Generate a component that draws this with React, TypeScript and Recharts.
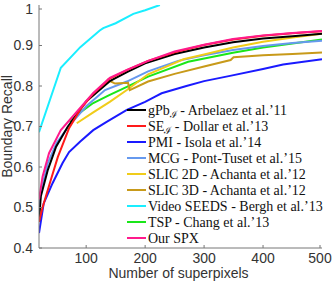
import React from "react";
import { LineChart, Line, XAxis, YAxis, Legend } from "recharts";

// [superpixels, boundary recall]
const gpb: number[][] = [[20,0.465],[23,0.527],[35,0.593],[49,0.65],[69,0.70],[100,0.762],[140,0.812],[170,0.835],[200,0.856],[250,0.879],[300,0.895],[349,0.908],[400,0.917],[450,0.923],[500,0.929]];
const se: number[][] = [[20,0.465],[26,0.50],[40,0.568],[52,0.625],[71,0.696],[90,0.742],[112,0.781],[140,0.818],[170,0.84],[205,0.862],[250,0.883],[300,0.901],[350,0.915],[400,0.924],[450,0.930],[500,0.935]];
const pmi: number[][] = [[20,0.437],[28,0.51],[43,0.56],[60,0.61],[71,0.637],[90,0.663],[112,0.691],[134,0.711],[169,0.741],[200,0.761],[217,0.774],[228,0.782],[270,0.80],[300,0.812],[344,0.825],[400,0.842],[434,0.853],[500,0.866]];
const mcg: number[][] = [[20,0.50],[25,0.55],[35,0.61],[50,0.66],[70,0.70],[100,0.75],[132,0.79],[169,0.811],[205,0.836],[256,0.862],[300,0.876],[349,0.889],[400,0.899],[450,0.906],[500,0.912]];
const slic2d: number[][] = [[84,0.708],[112,0.735],[140,0.761],[169,0.79],[205,0.829],[265,0.866],[300,0.878],[349,0.895],[400,0.909],[450,0.920],[500,0.929]];
const slic3d: number[][] = [[135,0.816],[149,0.806],[171,0.808],[174,0.790],[205,0.811],[250,0.830],[300,0.848],[345,0.864],[350,0.871],[400,0.876],[450,0.879],[500,0.883]];
const seeds: number[][] = [[20,0.686],[57,0.845],[90,0.896],[123,0.937],[129,0.943],[150,0.955],[180,0.978],[200,0.987],[225,1.0]];
const tsp: number[][] = [[72,0.712],[90,0.735],[112,0.758],[140,0.778],[169,0.798],[205,0.823],[273,0.86],[349,0.882],[400,0.895],[450,0.905],[500,0.915]];
const ours: number[][] = [[20,0.52],[26,0.576],[37,0.634],[57,0.691],[72,0.716],[112,0.783],[140,0.82],[169,0.84],[205,0.862],[250,0.885],[300,0.902],[349,0.916],[400,0.925],[450,0.931],[500,0.936]];

const xTicks = [100, 200, 300, 400, 500];
const yTicks = [0.4, 0.5, 0.6, 0.7, 0.8, 0.9, 1];

type Series = { key: string; label: React.ReactNode; color: string; pts: number[][] };

const sub = (s: string) => (
  <tspan fontSize={10} dy={3}>{s}</tspan>
);

const series: Series[] = [
  { key: "gpb", label: <>gPb{sub("ℐ")}<tspan dy={-3}> - Arbelaez et al.’11</tspan></>, color: "#000000", pts: gpb },
  { key: "se", label: <>SE{sub("ℐ")}<tspan dy={-3}> - Dollar et al.’13</tspan></>, color: "#ff1a1a", pts: se },
  { key: "pmi", label: "PMI - Isola et al.’14", color: "#1a1aff", pts: pmi },
  { key: "mcg", label: "MCG - Pont-Tuset et al.’15", color: "#6699ee", pts: mcg },
  { key: "slic2d", label: "SLIC 2D - Achanta et al.’12", color: "#f0cc1a", pts: slic2d },
  { key: "slic3d", label: "SLIC 3D - Achanta et al.’12", color: "#c89a1a", pts: slic3d },
  { key: "seeds", label: "Video SEEDS - Bergh et al.’13", color: "#1aeeff", pts: seeds },
  { key: "tsp", label: "TSP - Chang et al.’13", color: "#1ae61a", pts: tsp },
  { key: "ours", label: "Our SPX", color: "#ff1a8c", pts: ours },
];

const drawOrder = ["seeds", "pmi", "tsp", "mcg", "slic2d", "slic3d", "gpb", "se", "ours"];

const AXIS = "#777777";
const TXT = "#333333";
const SANS = "'Liberation Sans', Arial, Helvetica, sans-serif";
const SERIF = "'Liberation Serif', 'Times New Roman', serif";

const XTick = (p: any) => {
  const { x, y, payload } = p;
  return (
    <g>
      <line x1={x} x2={x} y1={y - 5} y2={y - 8} stroke={AXIS} strokeWidth={1} />
      <text x={x} y={y} dy="0.71em" textAnchor="middle" fontSize={14} fill={TXT} fontFamily={SANS}>
        {payload.value}
      </text>
    </g>
  );
};

const YTick = (p: any) => {
  const { x, y, payload } = p;
  const v = payload.value === 1 ? "1" : Number(payload.value).toFixed(1);
  return (
    <g>
      <line x1={x + 6} x2={x + 9} y1={y} y2={y} stroke={AXIS} strokeWidth={1} />
      <text x={x} y={y} dy="0.355em" textAnchor="end" fontSize={14} fill={TXT} fontFamily={SANS}>
        {v}
      </text>
    </g>
  );
};

const LegendBox = () => (
  <svg width={205} height={150} style={{ display: "block" }}>
    {series.map((s, i) => {
      const cy = 10 + i * 16;
      return (
        <g key={s.key}>
          <line x1={2} x2={21} y1={cy} y2={cy} stroke={s.color} strokeWidth={2} />
          <text x={23} y={cy} dy="0.33em" fontSize={14} fill="#111" fontFamily={SERIF}>
            {s.label}
          </text>
        </g>
      );
    })}
  </svg>
);

export default function App() {
  const byKey: Record<string, Series> = {};
  series.forEach((s) => (byKey[s.key] = s));
  return (
    <div style={{ position: "absolute", left: 0, top: 0, width: 332, height: 282, background: "#fff" }}>
      <LineChart width={332} height={282} margin={{ top: 5, right: 10, bottom: 0, left: 0 }}>
        <XAxis
          type="number"
          dataKey="x"
          domain={[20, 500]}
          ticks={xTicks}
          allowDataOverflow
          height={34}
          tickSize={0}
          tickMargin={5}
          tickLine={false}
          axisLine={{ stroke: AXIS, strokeWidth: 1 }}
          tick={<XTick />}
          label={{
            content: (lp: any) => {
              const vb = lp.viewBox || { x: 39, y: 248, width: 283, height: 34 };
              return (
                <text x={vb.x + vb.width / 2 - 2} y={vb.y + vb.height - 4.5} textAnchor="middle" fontSize={14} fill={TXT} fontFamily={SANS}>
                  Number of superpixels
                </text>
              );
            },
          }}
        />
        <YAxis
          type="number"
          dataKey="y"
          domain={[0.4, 1]}
          ticks={yTicks}
          allowDataOverflow
          width={39}
          tickSize={0}
          tickMargin={6}
          tickLine={false}
          axisLine={{ stroke: AXIS, strokeWidth: 1 }}
          tick={<YTick />}
          label={{
            content: (lp: any) => {
              const vb = lp.viewBox || { x: 0, y: 5, width: 39, height: 243 };
              const cx = vb.x + 12;
              const cy = vb.y + vb.height / 2;
              return (
                <text x={cx} y={cy} transform={`rotate(-90 ${cx} ${cy})`} textAnchor="middle" fontSize={14} fill={TXT} fontFamily={SANS}>
                  Boundary Recall
                </text>
              );
            },
          }}
        />
        {drawOrder.map((k) => {
          const s = byKey[k];
          const data = s.pts.map(([x, y]) => ({ x, y }));
          return (
            <Line
              key={k}
              data={data}
              dataKey="y"
              type="linear"
              stroke={s.color}
              strokeWidth={2}
              dot={false}
              activeDot={false}
              isAnimationActive={false}
            />
          );
        })}
        <Legend
          layout="vertical"
          align="center"
          verticalAlign="middle"
          wrapperStyle={{ position: "absolute", left: 125, top: 100, width: 205, height: 150 }}
          content={() => <LegendBox />}
        />
      </LineChart>
    </div>
  );
}
